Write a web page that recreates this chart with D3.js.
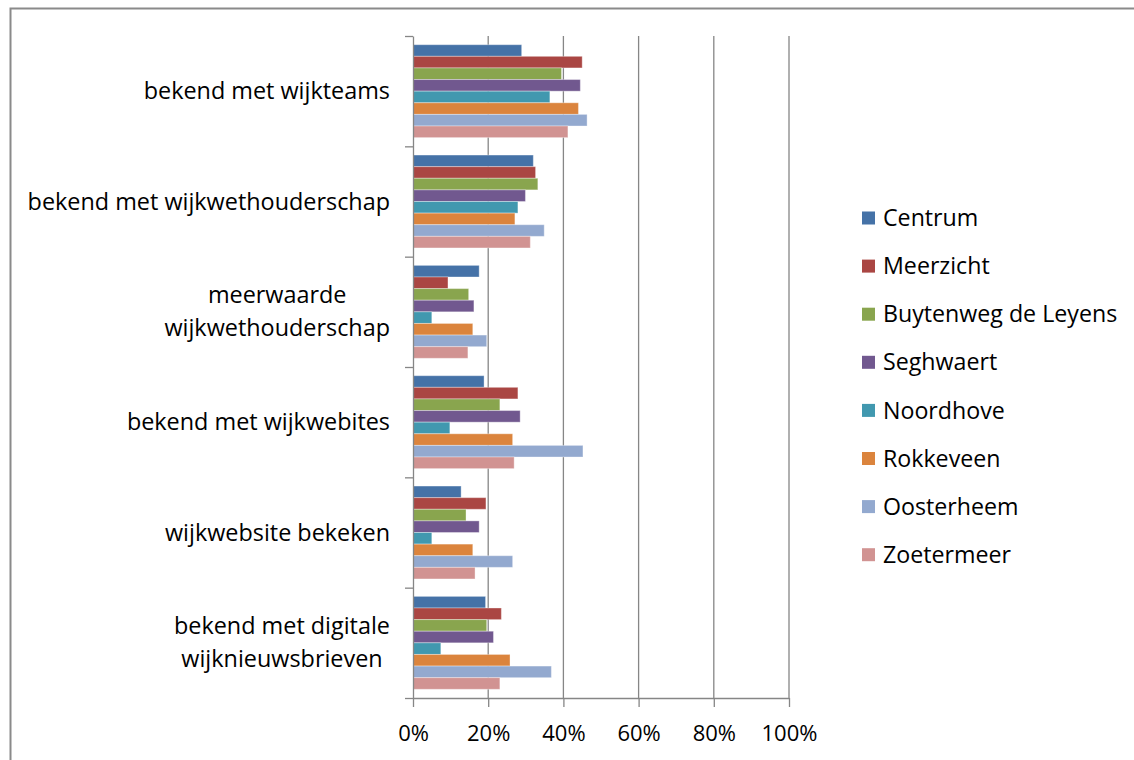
<!DOCTYPE html>
<html>
<head>
<meta charset="utf-8">
<script src="https://cdn.jsdelivr.net/npm/d3@7"></script>
<style>
  body { margin: 0; background: #fff; }
  text { font-family: "Open Sans", "Liberation Sans", sans-serif; fill: #000; }
</style>
</head>
<body>
<div id="chart"></div>
<script>
const categories = [
  ["bekend met wijkteams"],
  ["bekend met wijkwethouderschap"],
  ["meerwaarde", "wijkwethouderschap"],
  ["bekend met wijkwebites"],
  ["wijkwebsite bekeken"],
  ["bekend met digitale", "wijknieuwsbrieven"]
];

const seriesNames = ["Centrum", "Meerzicht", "Buytenweg de Leyens", "Seghwaert",
  "Noordhove", "Rokkeveen", "Oosterheem", "Zoetermeer"];

// percentages per category, top to bottom
const centrum    = [28.9, 32.0, 17.6, 18.9, 12.8, 19.3];
const meerzicht  = [45.0, 32.6,  9.3, 27.9, 19.4, 23.5];
const buytenweg  = [39.5, 33.2, 14.8, 23.1, 14.1, 19.6];
const seghwaert  = [44.5, 29.9, 16.2, 28.5, 17.6, 21.4];
const noordhove  = [36.4, 27.9,  5.0,  9.8,  5.0,  7.4];
const rokkeveen  = [44.0, 27.1, 15.9, 26.5, 15.9, 25.8];
const oosterheem = [46.3, 34.9, 19.6, 45.2, 26.5, 36.8];
const zoetermeer = [41.2, 31.2, 14.6, 26.9, 16.5, 23.1];

const xTicks = [0, 20, 40, 60, 80, 100];

const seriesValues = [centrum, meerzicht, buytenweg, seghwaert,
  noordhove, rokkeveen, oosterheem, zoetermeer];
const colors = ["#4572A7", "#AA4643", "#89A54E", "#71588F",
  "#4198AF", "#DB843D", "#93A9CF", "#D19392"];

const width = 1134;
const height = 760;
const plot = { left: 413, right: 789, top: 36, bottom: 698 };

const svg = d3.select("#chart")
  .append("svg")
  .attr("width", width)
  .attr("height", height);

// chart border (runs off the right and bottom edge)
svg.append("rect")
  .attr("x", 10.5)
  .attr("y", 8.5)
  .attr("width", width + 20)
  .attr("height", height + 20)
  .attr("fill", "none")
  .attr("stroke", "#8a8a8a")
  .attr("stroke-width", 2);

const catKeys = categories.map(c => c.join(" "));

const x = d3.scaleLinear()
  .domain([0, 100])
  .range([plot.left, plot.right]);

const y0 = d3.scaleBand()
  .domain(catKeys)
  .range([plot.top, plot.bottom]);

const y1 = d3.scaleBand()
  .domain(seriesNames)
  .range([0, y0.bandwidth()])
  .paddingOuter(0.75);

// gridlines
svg.append("g")
  .selectAll("line")
  .data(xTicks.slice(1))
  .join("line")
  .attr("x1", d => x(d))
  .attr("x2", d => x(d))
  .attr("y1", plot.top)
  .attr("y2", plot.bottom)
  .attr("stroke", "#868686")
  .attr("stroke-width", 1.3);

// bars
const groups = svg.append("g")
  .selectAll("g")
  .data(catKeys)
  .join("g")
  .attr("transform", d => `translate(0,${y0(d)})`);

groups.selectAll("rect")
  .data((d, i) => seriesNames.map((s, j) => ({ s, j, v: seriesValues[j][i] })))
  .join("rect")
  .attr("x", x(0))
  .attr("y", d => y1(d.s))
  .attr("width", d => x(d.v) - x(0))
  .attr("height", y1.bandwidth())
  .attr("fill", d => colors[d.j])
  .attr("stroke", "#fff")
  .attr("stroke-opacity", 0.35)
  .attr("stroke-width", 1);

// Y axis with ticks on category boundaries
const yBound = d3.scaleLinear()
  .domain([0, categories.length])
  .range([plot.top, plot.bottom]);

svg.append("g")
  .attr("transform", `translate(${plot.left},0)`)
  .call(d3.axisLeft(yBound).ticks(categories.length).tickFormat("").tickSize(8).tickSizeOuter(0))
  .call(g => g.selectAll("line, path").attr("stroke", "#868686").attr("stroke-width", 1.3));

// X Axis
svg.append("g")
  .attr("transform", `translate(0,${plot.bottom})`)
  .call(d3.axisBottom(x).tickValues(xTicks).tickFormat(d => d + "%").tickSize(9).tickSizeOuter(0).tickPadding(18))
  .call(g => g.selectAll("line, path").attr("stroke", "#868686").attr("stroke-width", 1.3))
  .call(g => g.selectAll("text").style("font-size", "22px").attr("fill", "#000"));

// category labels: block right-aligned, wrapped lines centred on each other
const labelRight = 390;
svg.append("g")
  .selectAll("text")
  .data(categories)
  .join("text")
  .attr("text-anchor", "middle")
  .attr("y", (d, i) => y0(catKeys[i]) + y0.bandwidth() / 2)
  .style("font-size", "23.4px")
  .each(function (d) {
    const t = d3.select(this);
    const lh = 33;
    d.forEach((line, k) => {
      t.append("tspan")
        .attr("dy", k === 0 ? (0.35 * 23 - (d.length - 1) * lh / 2) : lh)
        .text(line);
    });
    const maxW = d3.max(t.selectAll("tspan").nodes(), n => n.getComputedTextLength());
    t.selectAll("tspan").attr("x", labelRight - maxW / 2);
  });

// Legend
const legend = svg.append("g")
  .selectAll("g")
  .data(seriesNames)
  .join("g")
  .attr("transform", (d, i) => `translate(862,${218 + i * 48.1})`);

legend.append("rect")
  .attr("x", 0)
  .attr("y", -6.5)
  .attr("width", 13)
  .attr("height", 13)
  .attr("fill", (d, i) => colors[i]);

legend.append("text")
  .attr("x", 21)
  .attr("dy", "0.35em")
  .style("font-size", "23.2px")
  .text(d => d);
</script>
</body>
</html>
